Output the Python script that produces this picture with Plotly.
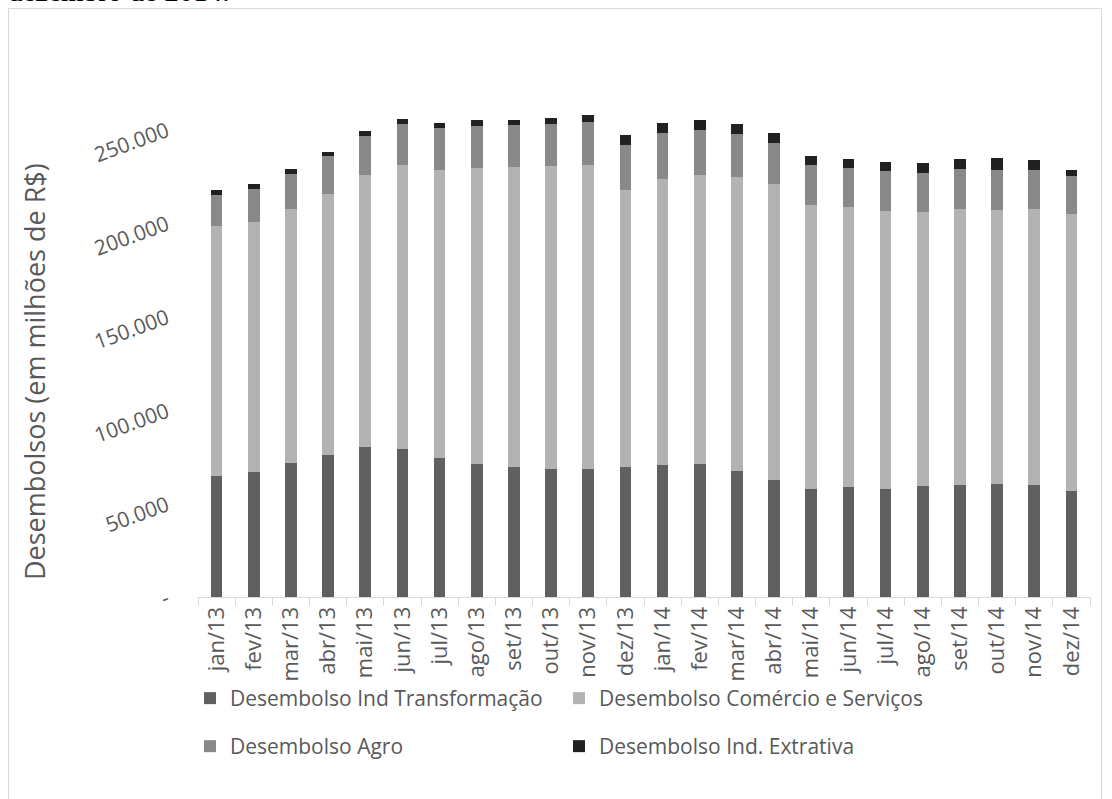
import plotly.graph_objects as go

# Monthly disbursements by sector (R$ millions)
meses = ["jan/13", "fev/13", "mar/13", "abr/13", "mai/13", "jun/13",
         "jul/13", "ago/13", "set/13", "out/13", "nov/13", "dez/13",
         "jan/14", "fev/14", "mar/14", "abr/14", "mai/14", "jun/14",
         "jul/14", "ago/14", "set/14", "out/14", "nov/14", "dez/14"]

ind_transformacao = [64900, 66800, 71700, 75800, 80400, 79300,
                     74500, 71100, 69400, 68400, 68400, 69500,
                     70800, 71300, 67400, 62400, 57800, 58800,
                     57800, 59500, 60100, 60600, 59900, 56800]

comercio_servicos = [133500, 133700, 135800, 139400, 144900, 151700,
                     153800, 158400, 160200, 161700, 162200, 147800,
                     152800, 154000, 157100, 158500, 151900, 149700,
                     148700, 146400, 147300, 146400, 147400, 147600]

agro = [16400, 17500, 18700, 20200, 20900, 21900,
        22500, 22300, 22500, 22800, 23000, 24400,
        24600, 24300, 22800, 21900, 20900, 20500,
        20900, 20900, 21400, 21200, 20900, 20300]

ind_extrativa = [2700, 2700, 2500, 2500, 2900, 2700,
                 2500, 3000, 3000, 3000, 4000, 5300,
                 5200, 5100, 5200, 5300, 5300, 5200,
                 5300, 5300, 5300, 6400, 5300, 3600]

y_ticks = [0, 50000, 100000, 150000, 200000, 250000]
y_tick_labels = ["-", "50.000", "100.000", "150.000", "200.000", "250.000"]

W, H = 1112, 799
L, R, T, B = 198, 22, 73, 202
plot_h = H - T - B
plot_w = W - L - R


def py(y_px):
    """Pixel row -> paper y."""
    return (H - B - y_px) / plot_h


def px(x_px):
    """Pixel column -> paper x."""
    return (x_px - L) / plot_w


FONT = "Open Sans, Noto Sans, sans-serif"
GREY_TXT = "#595959"

series = [
    ("Desembolso Ind Transformação", ind_transformacao, "#606060", "legend"),
    ("Desembolso Comércio e Serviços", comercio_servicos, "#b3b3b3", "legend"),
    ("Desembolso Agro", agro, "#898989", "legend2"),
    ("Desembolso Ind. Extrativa", ind_extrativa, "#212121", "legend2"),
]

fig = go.Figure()
for name, vals, color, leg in series:
    fig.add_trace(go.Bar(
        x=meses, y=vals, name=name, legend=leg,
        marker=dict(color=color, line=dict(width=0)),
    ))

legend_common = dict(
    orientation="h", xanchor="left", yanchor="top",
    traceorder="normal",
    entrywidth=324, entrywidthmode="pixels",
    font=dict(size=21, color=GREY_TXT, family=FONT),
    bgcolor="rgba(0,0,0,0)", itemclick=False,
)

fig.update_layout(
    width=W, height=H,
    margin=dict(l=L, r=R, t=T, b=B, autoexpand=False),
    barmode="stack",
    bargap=0.69,
    paper_bgcolor="white",
    plot_bgcolor="white",
    font=dict(family=FONT, color=GREY_TXT, size=18),
    xaxis=dict(
        type="category",
        tickangle=-90,
        showline=True, linecolor="#d9d9d9", linewidth=1,
        ticks="outside", tickson="boundaries", ticklen=8,
        tickcolor="#d9d9d9",
        tickfont=dict(size=22, color=GREY_TXT, family=FONT),
        showgrid=False,
    ),
    yaxis=dict(
        range=[0, 280000],
        tickvals=y_ticks, ticktext=y_tick_labels,
        tickangle=-20,
        tickfont=dict(size=21, color=GREY_TXT, family=FONT),
        showgrid=False, zeroline=False, showline=False,
        ticks="", ticklabelstandoff=30,
    ),
    legend=dict(legend_common, x=px(190), y=py(678)),
    legend2=dict(legend_common, x=px(190), y=py(726)),
    showlegend=True,
)

# Axis title
fig.add_annotation(
    text="Desembolsos (em milhões de R$)",
    xref="paper", yref="paper", x=px(34), y=py(372),
    xanchor="center", yanchor="middle", textangle=-90, showarrow=False,
    font=dict(size=27, color=GREY_TXT, family=FONT),
)

# Caption line above the chart frame
fig.add_annotation(
    text="dezembro de 2014.",
    xref="paper", yref="paper", x=px(6), y=py(-9),
    xanchor="left", yanchor="middle", showarrow=False,
    font=dict(size=29, color="black", family="Liberation Serif, serif"),
)

# Chart frame
fig.add_shape(
    type="rect", xref="paper", yref="paper",
    x0=px(8.5), x1=px(1101.5), y0=py(820), y1=py(8.5),
    line=dict(color="#d9d9d9", width=1), fillcolor="rgba(0,0,0,0)",
    layer="below",
)

fig.write_html("out.html")
